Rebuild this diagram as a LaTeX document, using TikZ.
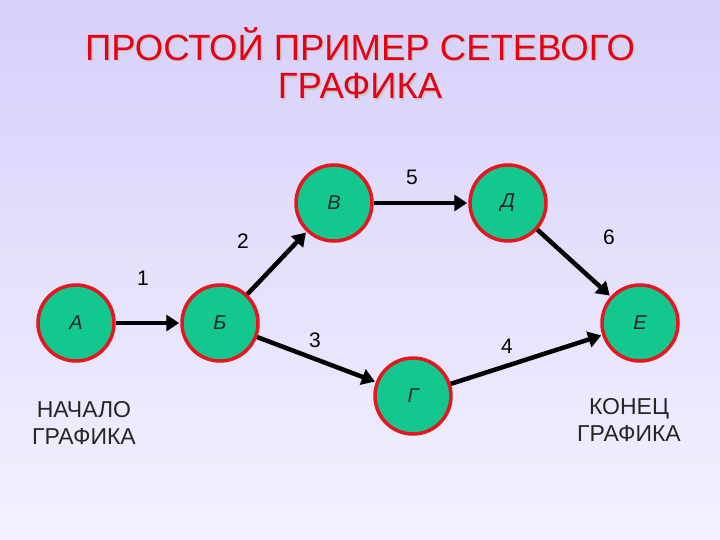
\documentclass[tikz,border=0pt]{standalone}
\usepackage{fontspec}
\setmainfont{Liberation Sans}
\newfontfamily\titlefont{Liberation Sans}
\usetikzlibrary{arrows.meta}
\definecolor{bgtop}{RGB}{214,208,250}
\definecolor{bgbot}{RGB}{242,242,255}
\definecolor{nodegreen}{RGB}{18,200,142}
\definecolor{noderim}{RGB}{232,20,30}
\definecolor{titlered}{RGB}{230,0,20}
\tikzset{
  ev/.style={circle, minimum size=76pt, inner sep=0pt, fill=nodegreen, draw=noderim, line width=3.5pt, font=\fontsize{20}{22}\selectfont\itshape, text=black!85},
  job/.style={line width=4.5pt, -{Triangle[length=13pt,width=16pt]}, shorten >=1pt},
  num/.style={font=\fontsize{21}{23}\selectfont, text=black},
  note/.style={font=\fontsize{23}{27}\selectfont, align=center, text=black!85},
  ttl/.style={font=\titlefont\fontsize{36.5}{42}\selectfont}
}
\begin{document}
\begin{tikzpicture}[x=1pt,y=-1pt]
\shade[top color=bgtop, bottom color=bgbot] (0,0) rectangle (720,540);
\useasboundingbox (0,0) rectangle (720,540);
% title
\node[ttl, text=black!22] at (361.5,45.5) {ПРОСТОЙ ПРИМЕР СЕТЕВОГО};
\node[ttl, text=black!22] at (361.5,87.5) {ГРАФИКА};
\node[ttl, text=titlered] (t1) at (360,44) {ПРОСТОЙ ПРИМЕР СЕТЕВОГО};
\node[ttl, text=titlered] (t2) at (360,86) {ГРАФИКА};
% events
\node[ev] (A) at (76,323) {А};
\node[ev] (B) at (220,323) {Б};
\node[ev] (V) at (334,203) {В};
\node[ev] (D) at (508,203) {Д};
\node[ev] (G) at (413,396) {Г};
\node[ev] (E) at (640,323) {Е};
% jobs
\draw[job] (A) -- (B);
\draw[job] (B) -- (V);
\draw[job] (V) -- (D);
\draw[job] (D) -- (E);
\draw[job] (B) -- (G);
\draw[job] (G) -- (E);
% durations
\node[num] (n1) at (143,278) {1};
\node[num] (n2) at (243,241) {2};
\node[num] (n3) at (315,340) {3};
\node[num] (n4) at (507,346) {4};
\node[num] (n5) at (412,177) {5};
\node[num] (n6) at (609,237) {6};
% notes
\node[note] (start) at (84,423) {НАЧАЛО\\ГРАФИКА};
\node[note] (end) at (629,420) {КОНЕЦ\\ГРАФИКА};
\end{tikzpicture}
\end{document}
